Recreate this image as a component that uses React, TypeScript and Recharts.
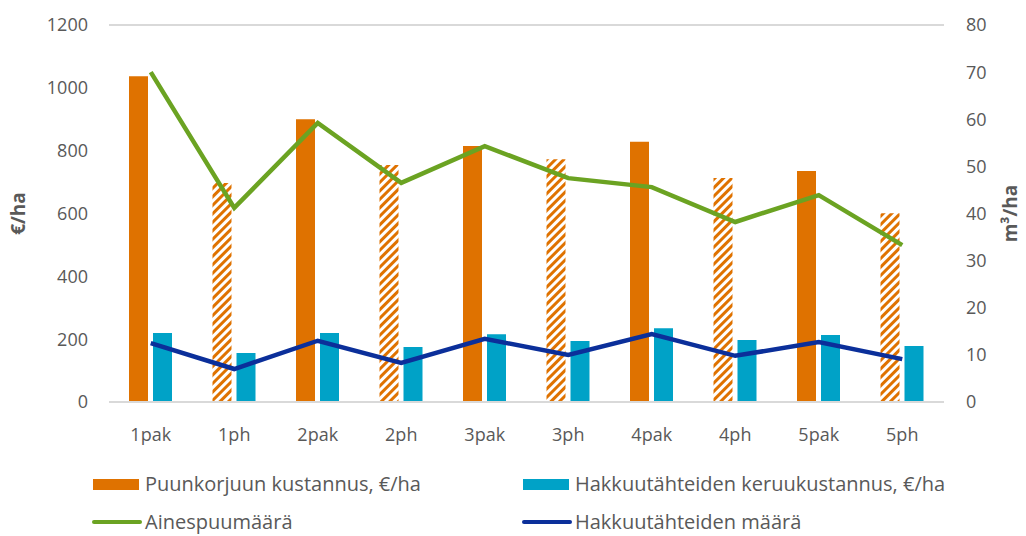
import React from 'react';
import {
  Bar,
  CartesianGrid,
  Cell,
  ComposedChart,
  Line,
  XAxis,
  YAxis,
} from 'recharts';

const categories = ['1pak', '1ph', '2pak', '2ph', '3pak', '3ph', '4pak', '4ph', '5pak', '5ph'];
// €/ha
const harvestCost = [1037, 697, 900, 754, 815, 773, 828, 713, 735, 601];
const residueCost = [220, 156, 220, 175, 216, 194, 235, 197, 213, 178];
// m³/ha
const timberVolume = [70, 41.2, 59.2, 46.5, 54.3, 47.5, 45.6, 38.2, 43.9, 33.3];
const residueVolume = [12.5, 7, 13, 8.3, 13.4, 10, 14.4, 9.8, 12.7, 9.1];

const leftTicks = [0, 200, 400, 600, 800, 1000, 1200];
const rightTicks = [0, 10, 20, 30, 40, 50, 60, 70, 80];

const ORANGE = '#df7200';
const CYAN = '#00a2c7';
const GREEN = '#6ba322';
const NAVY = '#0b2f9a';
const TEXT = '#595959';
const FONT = '"Open Sans", "Noto Sans", sans-serif';

const chartData = categories.map((name, i) => ({
  name,
  harvest: harvestCost[i],
  residue: residueCost[i],
  timber: timberVolume[i],
  residueVol: residueVolume[i],
}));

const tick = { fill: TEXT, fontSize: 18, fontFamily: FONT };

const legendItems = [
  { label: 'Puunkorjuun kustannus, €/ha', color: ORANGE, kind: 'box', left: 93, top: 470 },
  { label: 'Hakkuutähteiden keruukustannus, €/ha', color: CYAN, kind: 'box', left: 523, top: 470 },
  { label: 'Ainespuumäärä', color: GREEN, kind: 'line', left: 92, top: 508 },
  { label: 'Hakkuutähteiden määrä', color: NAVY, kind: 'line', left: 522, top: 508 },
];

function AxisTitle({ viewBox, text, x }: any) {
  const cy = viewBox.y + viewBox.height / 2;
  return (
    <text
      x={x}
      y={cy}
      transform={`rotate(-90, ${x}, ${cy})`}
      textAnchor="middle"
      dominantBaseline="central"
      fill={TEXT}
      fontSize={19}
      fontWeight={700}
      fontFamily={FONT}
    >
      {text}
    </text>
  );
}

export default function App() {
  return (
    <div style={{ position: 'absolute', left: 0, top: 0, width: 1026, height: 536, background: '#fff' }}>
      <ComposedChart
        width={1026}
        height={536}
        data={chartData}
        margin={{ top: 25, right: 0, bottom: 74, left: 0 }}
        barSize={19}
        barGap={5}
      >
        <defs>
          <pattern id="hatch" width="6" height="6" patternUnits="userSpaceOnUse" patternTransform="rotate(45)">
            <rect x="0" y="0" width="6" height="6" fill="#fff" />
            <rect x="0" y="0" width="3" height="6" fill={ORANGE} />
          </pattern>
        </defs>
        <CartesianGrid vertical={false} stroke="#d9d9d9" strokeWidth={2} />
        <XAxis
          dataKey="name"
          height={60}
          tick={tick}
          tickSize={0}
          tickMargin={26}
          axisLine={{ stroke: '#d9d9d9', strokeWidth: 2 }}
          tickLine={false}
        />
        <YAxis
          yAxisId="left"
          width={109}
          domain={[0, 1200]}
          ticks={leftTicks}
          tick={tick}
          tickSize={0}
          tickMargin={21}
          axisLine={false}
          tickLine={false}
          label={{ content: (p: any) => <AxisTitle {...p} text="€/ha" x={18} /> }}
        />
        <YAxis
          yAxisId="right"
          orientation="right"
          width={82}
          domain={[0, 80]}
          ticks={rightTicks}
          tick={tick}
          tickSize={0}
          tickMargin={22}
          axisLine={false}
          tickLine={false}
          label={{ content: (p: any) => <AxisTitle {...p} text="m³/ha" x={1010} /> }}
        />
        <Bar yAxisId="left" dataKey="harvest" fill={ORANGE} isAnimationActive={false}>
          {chartData.map((d, i) => (
            <Cell key={d.name} fill={i % 2 === 1 ? 'url(#hatch)' : ORANGE} />
          ))}
        </Bar>
        <Bar yAxisId="left" dataKey="residue" fill={CYAN} isAnimationActive={false} />
        <Line
          yAxisId="right"
          dataKey="timber"
          stroke={GREEN}
          strokeWidth={4.5}
          dot={false}
          activeDot={false}
          isAnimationActive={false}
        />
        <Line
          yAxisId="right"
          dataKey="residueVol"
          stroke={NAVY}
          strokeWidth={4.5}
          dot={false}
          activeDot={false}
          isAnimationActive={false}
        />
      </ComposedChart>

      {legendItems.map((item) => (
        <div
          key={item.label}
          style={{
            position: 'absolute',
            left: item.left,
            top: item.top,
            height: 28,
            display: 'flex',
            alignItems: 'center',
            fontFamily: FONT,
            fontSize: 20,
            lineHeight: '26px',
            color: TEXT,
            whiteSpace: 'nowrap',
          }}
        >
          {item.kind === 'box' ? (
            <span style={{ width: 46, height: 11, background: item.color, marginRight: 6 }} />
          ) : (
            <span style={{ width: 50, height: 4.5, borderRadius: 2, background: item.color, marginRight: 3 }} />
          )}
          {item.label}
        </div>
      ))}
    </div>
  );
}
